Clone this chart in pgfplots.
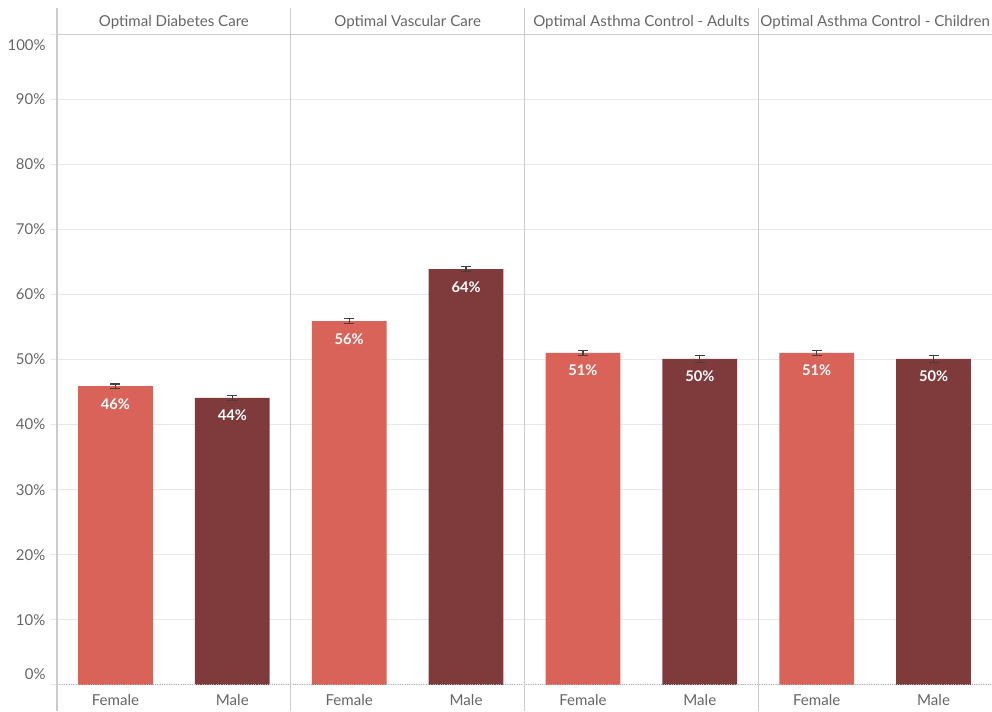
\documentclass[border=0pt]{standalone}
\usepackage{pgfplots}
\pgfplotsset{compat=1.18}
\usepackage{pgfplotstable}
\usepackage{fontspec}
\setmainfont{Lato}
\definecolor{fem}{HTML}{D96358}
\definecolor{mal}{HTML}{7F3B3C}
\definecolor{txt}{HTML}{666666}
\definecolor{sep}{HTML}{CCCCCC}
\definecolor{grd}{HTML}{E8E8E8}

% x y err label
\pgfplotstableread{
x   y    e    lab
0.5 45.9 0.35 46
2.5 55.9 0.35 56
4.5 51.0 0.35 51
6.5 51.0 0.35 51
}\female
\pgfplotstableread{
x   y    e    lab
1.5 44.1 0.4  44
3.5 63.9 0.4  64
5.5 50.1 0.55 50
7.5 50.1 0.55 50
}\male

\begin{document}
\begin{tikzpicture}
\begin{axis}[
    scale only axis,
    width=701.25pt, height=527.25pt,
    xmin=0, xmax=8, ymin=-4, ymax=104,
    clip=false,
    axis line style={draw=none},
    xtick=\empty,
    ytick={0,10,...,100},
    yticklabels={,10\%,20\%,30\%,40\%,50\%,60\%,70\%,80\%,90\%,},
    yticklabel style={text=txt, font=\fontsize{11.2}{13}\selectfont},
    ytick pos=left, tick align=outside,
    major tick length=5.25pt,
    tick style={grd, line width=0.75pt},
    ymajorgrids, grid style={grd, line width=0.75pt},
    ybar, bar shift=0pt, bar width=0.64,
    point meta=explicit symbolic,
    nodes near coords={\pgfplotspointmeta\%},
    nodes near coords style={anchor=north, yshift=-9pt, inner sep=0pt,
        text=white, font=\bfseries\fontsize{11}{13}\selectfont},
    error bars/y dir=both, error bars/y explicit,
    error bars/error bar style={color=black!75, line width=0.9pt},
    error bars/error mark options={rotate=90, mark size=3.75pt, line width=0.9pt, black!75},
  ]
  \addplot[fill=fem, draw=none] table[x=x, y=y, y error=e, meta=lab] {\female};
  \addplot[fill=mal, draw=none] table[x=x, y=y, y error=e, meta=lab] {\male};

  % panel frames
  \draw[densely dotted, black!30, line width=0.75pt] (axis cs:0,0) -- (axis cs:8,0);
  \draw[sep, line width=0.75pt] (axis cs:0,100) -- (axis cs:8,100);
  \pgfplotsinvokeforeach{0,2,4,6}{
    \draw[sep, line width=0.9pt] (axis cs:#1,-4) -- (axis cs:#1,104);
  }

  % edge tick labels sit inside the range
  \node[anchor=east, text=txt, font=\fontsize{11.2}{13}\selectfont, xshift=-5pt] at (axis cs:0,98.3) {100\%};
  \node[anchor=east, text=txt, font=\fontsize{11.2}{13}\selectfont, xshift=-5pt] at (axis cs:0,1.7) {0\%};

  % panel headers
  \tikzset{hd/.style={text=txt, font=\fontsize{11.3}{13}\selectfont}}
  \node[hd] at (axis cs:1,101.85) {Optimal Diabetes Care};
  \node[hd] at (axis cs:3,101.85) {Optimal Vascular Care};
  \node[hd] at (axis cs:5,101.85) {Optimal Asthma Control - Adults};
  \node[hd] at (axis cs:7,101.85) {Optimal Asthma Control - Children};

  % category labels
  \pgfplotsinvokeforeach{0.5,2.5,4.5,6.5}{
    \node[text=txt, font=\fontsize{11.3}{13}\selectfont] at (axis cs:#1,-2.3) {Female};
  }
  \pgfplotsinvokeforeach{1.5,3.5,5.5,7.5}{
    \node[text=txt, font=\fontsize{11.3}{13}\selectfont] at (axis cs:#1,-2.3) {Male};
  }
\end{axis}
\pgfresetboundingbox
\path (-42.75pt,0) rectangle (701.25pt,533.25pt);
\end{tikzpicture}
\end{document}
